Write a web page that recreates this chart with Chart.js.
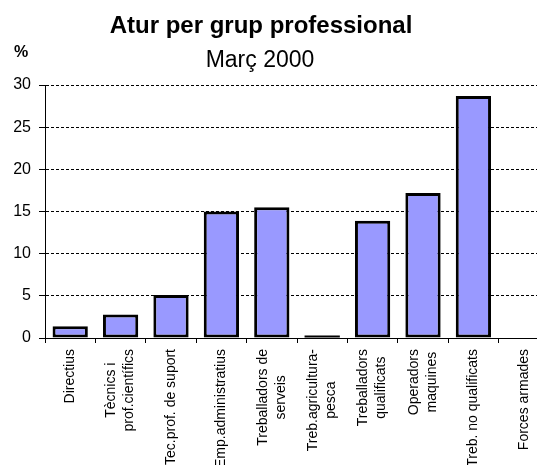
<!DOCTYPE html>
<html>
<head>
<meta charset="utf-8">
<script src="https://cdn.jsdelivr.net/npm/chart.js@4"></script>
<style>
    html, body { margin: 0; padding: 0; overflow: hidden; background: #fff; }
    #wrap { width: 550px; height: 465px; }
</style>
</head>
<body>
<div id="wrap"><canvas id="aturChart" width="550" height="465"></canvas></div>
<script>
// ================= DATA =================
const grups = [
    "Directius",
    ["Tècnics i", "prof.científics"],
    "Tec.prof. de suport",
    "Emp.administratius",
    ["Treballadors de", "serveis"],
    ["Treb.agricultura-", "pesca"],
    ["Treballadors", "qualificats"],
    ["Operadors", "maquines"],
    "Treb. no qualificats",
    "Forces armades"
];
const atur = [1.4, 2.8, 5.1, 15.0, 15.5, 0.3, 13.9, 17.2, 28.7, 0];
const yTicks = [0, 5, 10, 15, 20, 25, 30];

const titol = "Atur per grup professional";
const subtitol = "Març 2000";
const unitat = "%";

const FONT = "Arial, 'Liberation Sans', sans-serif";

// ================= TITLE TEXTS =================
const titlePlugin = {
    id: "titles",
    afterDraw(chart) {
        const ctx = chart.ctx;
        ctx.save();
        ctx.fillStyle = "#000";
        ctx.textAlign = "center";
        ctx.textBaseline = "alphabetic";
        ctx.font = "bold 24px " + FONT;
        ctx.fillText(titol, 261, 33);
        ctx.font = "23px " + FONT;
        ctx.fillText(subtitol, 260, 67);
        ctx.font = "bold 16px " + FONT;
        ctx.fillText(unitat, 21, 57);
        ctx.restore();
    }
};

// ================= X LABELS (vertical, lines centred on each other) =================
const xLabels = {
    id: "xLabels",
    afterDraw(chart) {
        const xs = chart.scales.x;
        const ctx = chart.ctx;
        const lh = 18;
        ctx.save();
        ctx.font = "14px " + FONT;
        ctx.fillStyle = "#000";
        ctx.textAlign = "center";
        ctx.textBaseline = "middle";
        grups.forEach((lab, i) => {
            const lines = [].concat(lab);
            const n = lines.length;
            const maxW = Math.max(...lines.map(t => ctx.measureText(t).width));
            const cx = xs.getPixelForValue(i);
            const cy = xs.top + 11 + maxW / 2;
            lines.forEach((t, j) => {
                ctx.save();
                ctx.translate(cx + (j - (n - 1) / 2) * lh, cy);
                ctx.rotate(-Math.PI / 2);
                ctx.fillText(t, 0, 0);
                ctx.restore();
            });
        });
        ctx.restore();
    }
};

// ================= CHART =================
new Chart(document.getElementById("aturChart"), {
    type: "bar",
    data: {
        labels: grups,
        datasets: [{
            data: atur,
            backgroundColor: atur.map(v => v < 0.5 ? "#000" : "#9999FF"),
            borderColor: "#000",
            borderWidth: atur.map(v => v >= 0.5 ? 3 : 0),
            borderSkipped: false,
            categoryPercentage: 1,
            barPercentage: 0.7
        }]
    },
    options: {
        responsive: false,
        animation: false,
        layout: { padding: { top: 85, right: 1, left: 0, bottom: 0 } },
        plugins: {
            legend: { display: false },
            tooltip: { enabled: false }
        },
        scales: {
            x: {
                afterFit: s => { s.height = 127; },
                grid: {
                    display: true,
                    drawOnChartArea: false,
                    drawTicks: true,
                    tickLength: 5,
                    color: "#000",
                    offset: true
                },
                border: { display: true, color: "#000", width: 1 },
                ticks: { display: false, autoSkip: false }
            },
            y: {
                min: 0,
                max: 30,
                afterFit: s => { s.width = 45; },
                afterBuildTicks: s => { s.ticks = yTicks.map(v => ({ value: v })); },
                grid: {
                    color: "#000",
                    lineWidth: 1,
                    tickLength: 6,
                    tickBorderDash: [],
                    tickColor: "#000"
                },
                border: { display: true, color: "#000", width: 1, dash: [3, 2] },
                ticks: {
                    padding: 8,
                    color: "#000",
                    font: { family: FONT, size: 16 }
                }
            }
        }
    },
    plugins: [titlePlugin, xLabels]
});
</script>
</body>
</html>
